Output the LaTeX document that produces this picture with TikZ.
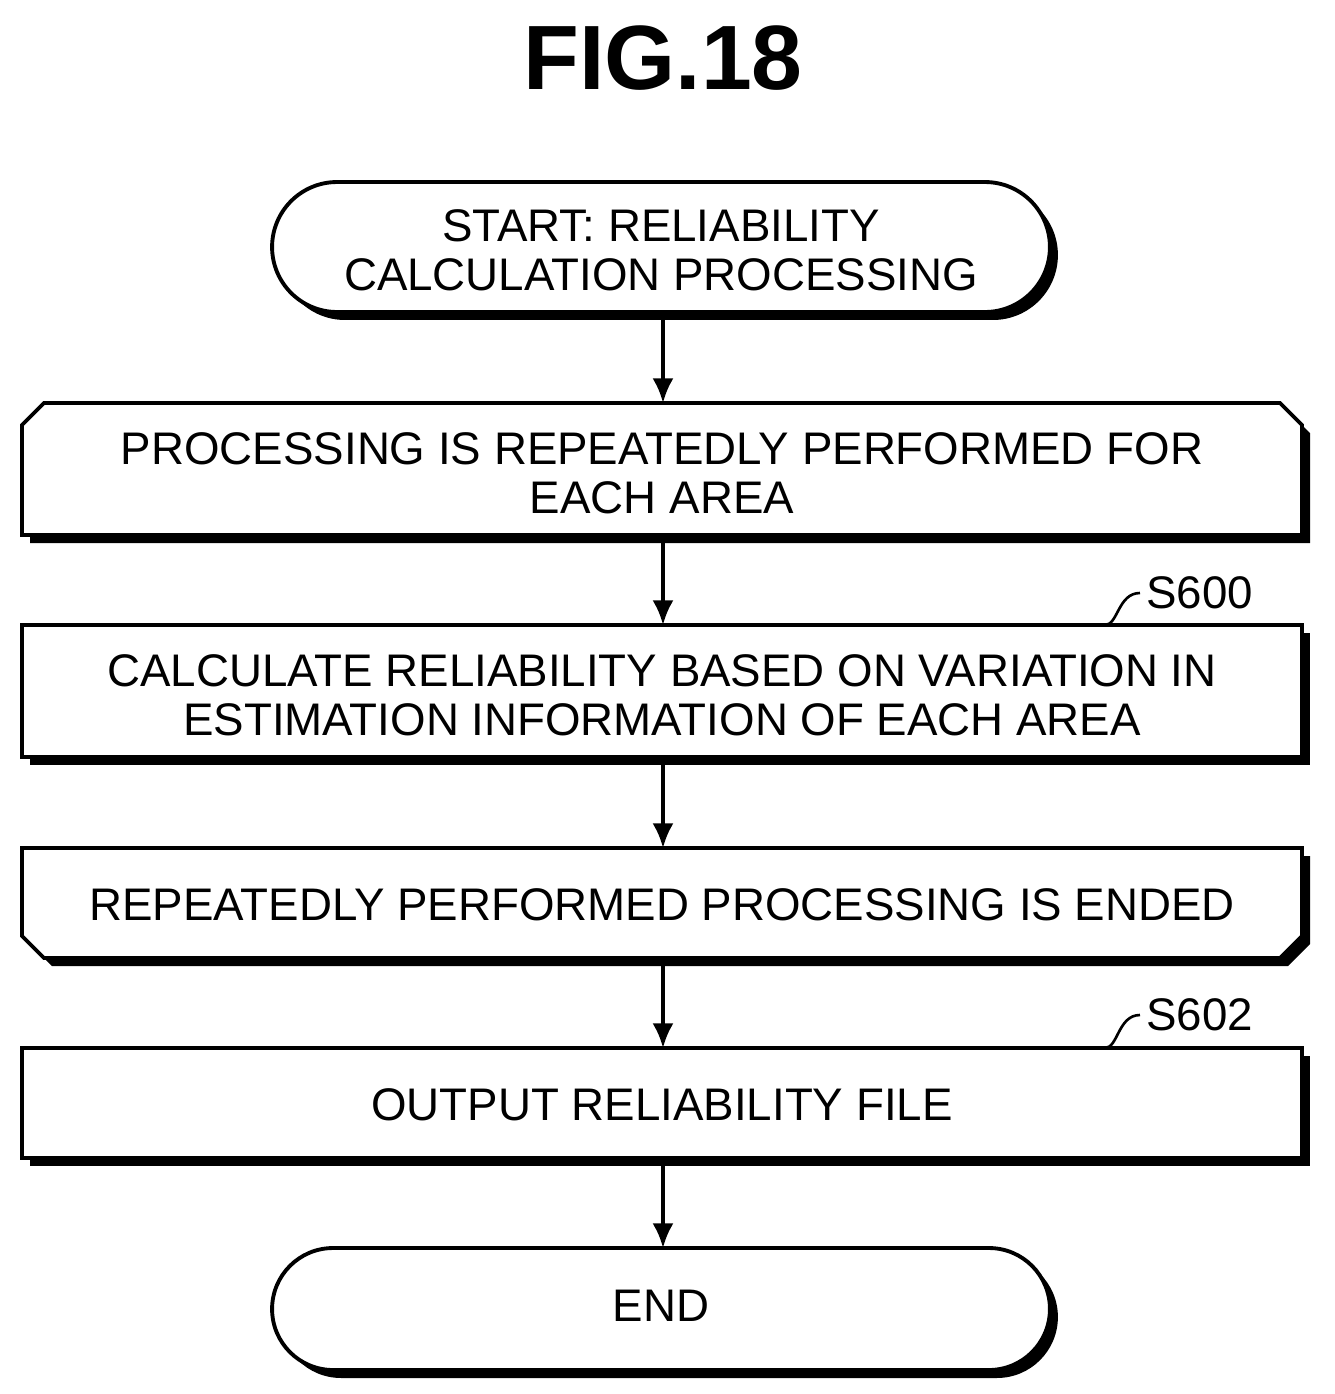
\documentclass[tikz,border=0pt]{standalone}
\usepackage{fontspec}
\setmainfont{Liberation Sans}
\usetikzlibrary{arrows.meta,shapes.misc}
\begin{document}
\begin{tikzpicture}[x=0.02cm,y=-0.02cm,
  txt/.style={font=\fontsize{26}{28}\selectfont,align=center},
  outl/.style={draw=black,line width=2.2pt,fill=white},
  shad/.style={fill=black},
  term/.style={rounded rectangle,inner sep=0pt,minimum width=15.56cm},
  arr/.style={line width=2.2pt,-{Latex[length=14pt,width=12pt]}}]
\useasboundingbox (0,0) rectangle (1335,1394);
\node[font=\bfseries\fontsize{52}{60}\selectfont] (title) at (663,58) {FIG.18};
% start terminal
\node[term,shad,minimum height=2.6cm] (starts) at (669,255) {};
\node[term,outl,minimum height=2.6cm] (startb) at (661,247) {};
\node[txt] (start) at (661,250) {START: RELIABILITY\\CALCULATION PROCESSING};
% loop start
\fill[shad] (30,433) -- (52,411) -- (1288,411) -- (1310,433) -- (1310,543) -- (30,543) -- cycle;
\draw[outl] (22,425) -- (44,403) -- (1280,403) -- (1302,425) -- (1302,535) -- (22,535) -- cycle;
\node[txt] (loop) at (662,473) {PROCESSING IS REPEATEDLY PERFORMED FOR\\EACH AREA};
% S600
\fill[shad] (30,633) rectangle (1310,765);
\draw[outl] (22,625) rectangle (1302,757);
\node[txt] (s600) at (662,695) {CALCULATE RELIABILITY BASED ON VARIATION IN\\ESTIMATION INFORMATION OF EACH AREA};
% loop end
\fill[shad] (30,856) -- (1310,856) -- (1310,944) -- (1288,966) -- (52,966) -- (30,944) -- cycle;
\draw[outl] (22,848) -- (1302,848) -- (1302,936) -- (1280,958) -- (44,958) -- (22,936) -- cycle;
\node[txt] (lend) at (662,905) {REPEATEDLY PERFORMED PROCESSING IS ENDED};
% S602
\fill[shad] (30,1056) rectangle (1310,1166);
\draw[outl] (22,1048) rectangle (1302,1158);
\node[txt] (s602) at (662,1105) {OUTPUT RELIABILITY FILE};
% end terminal
\node[term,shad,minimum height=2.44cm] (ends) at (669,1317) {};
\node[term,outl,minimum height=2.44cm] (endb) at (661,1309) {};
\node[txt] (endn) at (661,1306) {END};
% arrows
\coordinate (a1) at (663,312); \coordinate (b1) at (663,403);
\coordinate (a2) at (663,535); \coordinate (b2) at (663,625);
\coordinate (a3) at (663,757); \coordinate (b3) at (663,848);
\coordinate (a4) at (663,958); \coordinate (b4) at (663,1048);
\coordinate (a5) at (663,1158); \coordinate (b5) at (663,1248);
\foreach \i in {1,...,5} \draw[arr] (a\i) -- (b\i);
% labels
\node[font=\fontsize{26}{28}\selectfont,anchor=west] (l600) at (1140,593) {S600};
\node[font=\fontsize{26}{28}\selectfont,anchor=west] (l602) at (1140,1015) {S602};
\coordinate (c600) at (1105,625); \coordinate (c602) at (1105,1048);
\draw[line width=1.5pt] (c600) .. controls (1118,625) and (1118,593) .. (l600.west);
\draw[line width=1.5pt] (c602) .. controls (1118,1048) and (1118,1015) .. (l602.west);
\end{tikzpicture}
\end{document}
